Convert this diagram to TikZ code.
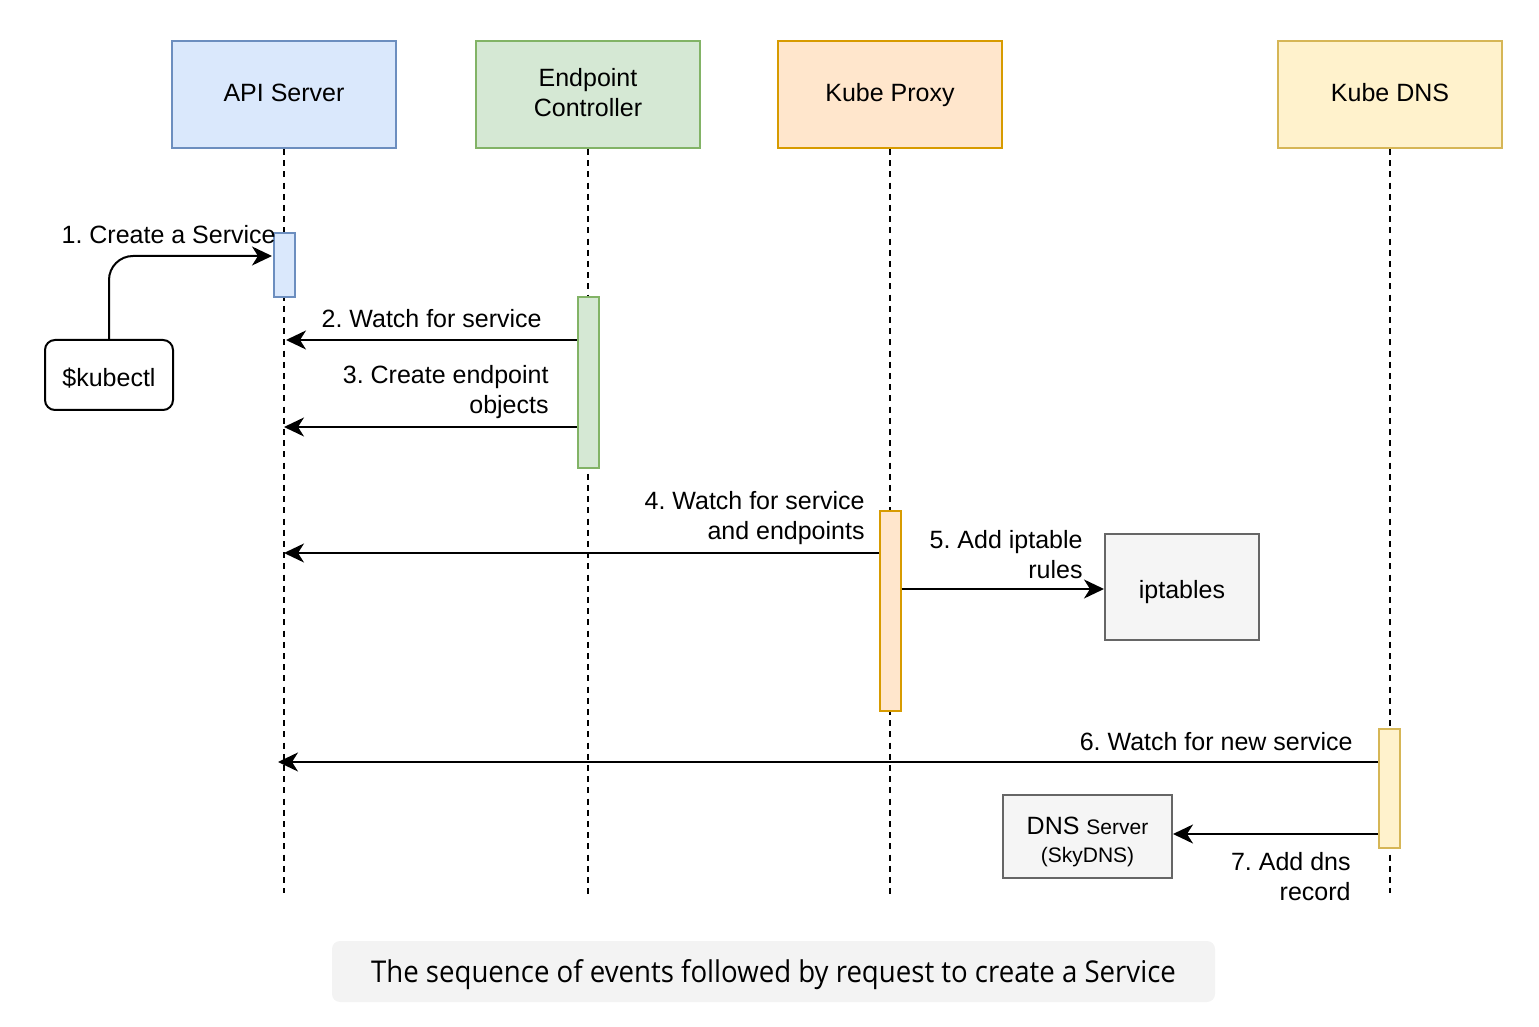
\documentclass[tikz,border=0pt]{standalone}
\usepackage{fontspec}
\setmainfont{Liberation Sans}
\newfontfamily\capfont[FakeStretch=0.92]{Open Sans}
\usetikzlibrary{arrows.meta}
\definecolor{bluef}{HTML}{DAE8FC}\definecolor{blued}{HTML}{6C8EBF}
\definecolor{greenf}{HTML}{D5E8D4}\definecolor{greend}{HTML}{82B366}
\definecolor{orangef}{HTML}{FFE6CC}\definecolor{oranged}{HTML}{D79B00}
\definecolor{yellowf}{HTML}{FFF2CC}\definecolor{yellowd}{HTML}{D6B656}
\definecolor{greyf}{HTML}{F5F5F5}\definecolor{greyd}{HTML}{666666}
\definecolor{capf}{HTML}{F3F3F3}
\newcommand{\shiftv}[2]{\raisebox{#1}[\height][\depth]{#2}}
\tikzset{
  base/.style={font=\fontsize{12.5}{15}\selectfont\frenchspacing, text=black},
  actor/.style={base, draw, line width=1pt, minimum width=112pt, minimum height=53.5pt, align=center, inner sep=0pt},
  act/.style={draw, line width=1pt, minimum width=10.5pt, inner sep=0pt},
  life/.style={line width=1pt, dash pattern=on 3pt off 2.6pt},
  msg/.style={line width=1pt, -{Stealth[length=10pt,width=9.5pt,inset=3pt]}},
  lbl/.style={base, align=right, inner sep=0pt, anchor=east},
  ext/.style={base, draw=greyd, fill=greyf, line width=1pt, align=center, inner sep=0pt},
}
\begin{document}
\begin{tikzpicture}[x=0.5pt,y=-0.5pt]
\useasboundingbox (0,0) rectangle (1539,1027);
% actors
\node[actor, fill=bluef, draw=blued] (api) at (284,94.5) {\shiftv{1pt}{API Server}};
\node[actor, fill=greenf, draw=greend] (ec) at (588,94.5) {\shiftv{1pt}{\parbox{100pt}{\centering Endpoint\\Controller}}};
\node[actor, fill=orangef, draw=oranged] (kp) at (890,94.5) {\shiftv{-0.5pt}{Kube Proxy}};
\node[actor, fill=yellowf, draw=yellowd] (dns) at (1390,94.5) {\shiftv{1pt}{Kube DNS}};
% lifeline ends
\coordinate (apiE) at (284,893);
\coordinate (ecE) at (588,897);
\coordinate (kpE) at (890,897);
\coordinate (dnsE) at (1390,893);
\draw[life] (api.south) -- (apiE);
\draw[life] (ec.south) -- (ecE);
\draw[life] (kp.south) -- (kpE);
\draw[life] (dns.south) -- (dnsE);
% activations
\node[act, fill=bluef, draw=blued, minimum height=32pt] (apiA) at (284.5,265) {};
\node[act, fill=greenf, draw=greend, minimum height=85.5pt] (ecA) at (588,382.5) {};
\node[act, fill=orangef, draw=oranged, minimum height=100pt] (kpA) at (890,611) {};
\node[act, fill=yellowf, draw=yellowd, minimum height=59.5pt] (dnsA) at (1389.5,788.5) {};
% external boxes
\node[base, draw, line width=1pt, rounded corners=5pt, minimum width=64pt, minimum height=35pt, inner sep=0pt] (kub) at (109,375) {\shiftv{-1.5pt}{\$kubectl}};
\node[ext, minimum width=77pt, minimum height=53pt] (ipt) at (1182,587) {\shiftv{-2.5pt}{iptables}};
\node[ext, minimum width=84.5pt, minimum height=41.5pt] (dnss) at (1087.5,836.5) {\shiftv{-2.5pt}{\parbox{80pt}{\centering DNS {\fontsize{10.5}{12}\selectfont Server}\\[-1pt]{\fontsize{10.5}{12}\selectfont (SkyDNS)}}}};
% message end points
\coordinate (c1) at (272,256);
\coordinate (c2) at (286,340);
\coordinate (c3) at (284,427);
\coordinate (c4) at (284,553);
\coordinate (c6) at (278,762);
% messages
\draw[msg, rounded corners=12pt] (kub.north) |- (c1);
\draw[msg] (ecA.west |- c2) -- (c2);
\draw[msg] (ecA.west |- c3) -- (c3);
\draw[msg] (kpA.west |- c4) -- (c4);
\draw[msg] (kpA.east |- 0,589) -- (ipt.west |- 0,589);
\draw[msg] (dnsA.west |- c6) -- (c6);
\draw[msg] (dnsA.west |- 0,834) -- (dnss.east |- 0,834);
% labels
\node[lbl] (l1) at (276,235) {1. Create a Service};
\node[lbl] (l2) at (542,319) {2. Watch for service};
\node[lbl] (l3) at (549,392) {3. Create endpoint\\objects};
\node[lbl] (l4) at (865,518) {4. Watch for service\\and endpoints};
\node[lbl] (l5) at (1083,554.5) {5. Add iptable\hspace{3.5pt}\\rules};
\node[lbl] (l6) at (1353,742) {6. Watch for new service};
\node[lbl] (l7) at (1351,877) {7. Add dns\\record};
% caption
\node[fill=capf, rounded corners=4pt, minimum width=441.5pt, minimum height=30.5pt, inner sep=0pt,
      font=\capfont\fontsize{15}{17}\selectfont, text=black] (cap) at (773.5,971.5)
      {\shiftv{-1.5pt}{The sequence of events followed by request to create a Service}};
\end{tikzpicture}
\end{document}
